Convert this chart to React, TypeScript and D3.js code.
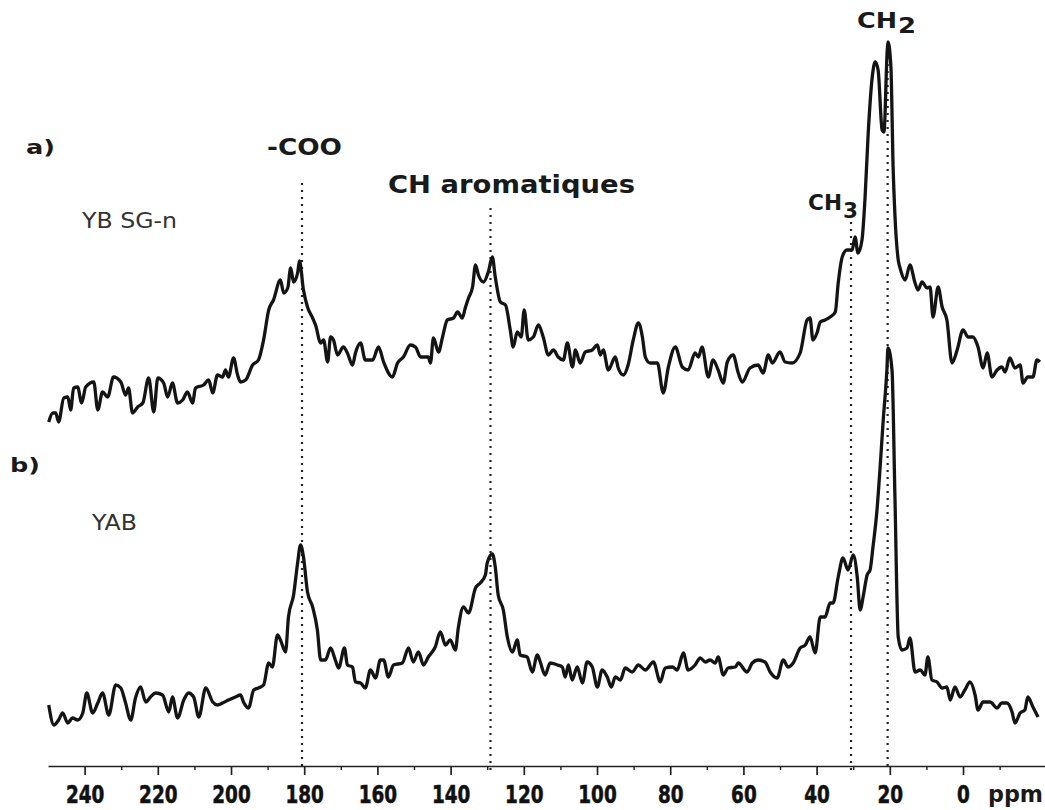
import React, { useEffect, useRef } from 'react';
import * as d3 from 'd3';

type Pt = [number, number];

// [ppm, intensity], intensity in the same arbitrary units for both
const traceA: Pt[] = [
  [249.8, 8], [248.7, 17], [247.9, 17], [247.1, 8], [245.7, 32], [244.6, 33], [243.8, 20], [243.0, 42],
  [241.9, 43], [240.8, 27], [239.7, 43], [237.5, 48], [236.4, 20], [235.1, 38], [233.7, 33], [232.1, 53],
  [230.1, 48], [228.8, 35], [228.0, 42], [226.9, 17], [225.5, 23], [224.1, 27], [222.5, 52], [221.1, 18],
  [220.0, 52], [218.4, 47], [217.3, 33], [216.0, 47], [214.6, 27], [213.2, 30], [211.9, 38], [210.5, 27],
  [209.7, 42], [207.5, 45], [206.1, 50], [205.0, 37], [203.7, 55], [202.3, 53], [201.5, 60], [200.7, 53],
  [199.3, 72], [198.2, 55], [197.4, 48], [196.0, 50], [194.1, 65], [192.5, 70], [191.1, 90], [189.7, 120],
  [188.4, 130], [186.5, 150], [185.6, 137], [184.5, 142], [183.7, 162], [182.9, 148], [181.8, 157], [181.3, 169],
  [180.2, 140], [179.1, 123], [177.7, 112], [176.9, 105], [175.5, 87], [174.7, 90], [173.6, 68], [172.8, 93],
  [172.0, 90], [170.9, 75], [169.3, 83], [168.2, 77], [166.8, 65], [166.0, 77], [164.6, 87], [163.3, 70],
  [161.3, 70], [159.7, 83], [158.3, 68], [155.9, 53], [154.5, 67], [152.9, 73], [151.0, 85], [149.6, 83],
  [148.2, 73], [146.1, 73], [145.5, 67], [144.7, 92], [143.3, 78], [142.2, 93], [140.9, 110], [139.2, 112],
  [138.1, 118], [136.8, 112], [136.0, 122], [135.1, 132], [134.0, 143], [133.2, 165], [132.4, 155], [131.0, 148],
  [129.7, 158], [128.6, 173], [127.8, 153], [126.4, 128], [125.0, 125], [123.7, 100], [122.9, 83], [121.8, 98],
  [120.7, 93], [119.9, 120], [118.8, 90], [117.4, 93], [116.0, 105], [114.7, 93], [113.3, 75], [111.9, 80],
  [110.6, 73], [109.2, 70], [108.1, 87], [106.7, 63], [105.9, 80], [104.6, 67], [103.2, 78], [101.3, 80],
  [99.9, 85], [99.1, 75], [98.3, 80], [96.9, 60], [95.0, 73], [94.2, 62], [92.8, 55], [91.5, 65],
  [90.1, 90], [88.7, 107], [87.6, 93], [86.8, 73], [85.5, 67], [83.5, 67], [81.9, 37], [80.5, 63],
  [78.6, 83], [76.7, 63], [75.1, 60], [73.2, 77], [72.3, 73], [71.3, 83], [69.6, 53], [68.3, 70],
  [66.9, 60], [65.5, 47], [64.4, 68], [62.8, 75], [61.4, 57], [60.3, 48], [58.2, 62], [56.0, 65],
  [54.6, 57], [53.2, 75], [52.1, 67], [50.0, 78], [48.6, 68], [46.7, 67], [44.5, 77], [42.6, 110],
  [41.8, 112], [41.0, 90], [39.9, 97], [39.0, 108], [37.7, 110], [36.3, 113], [34.9, 118], [34.1, 147],
  [33.0, 173], [31.7, 180], [30.3, 180], [29.5, 193], [28.7, 177], [27.6, 190], [26.8, 230], [25.9, 297],
  [24.8, 353], [24.0, 368], [23.2, 360], [22.1, 300], [21.6, 298], [20.7, 380], [20.5, 388], [19.7, 363],
  [19.1, 263], [18.6, 215], [17.7, 170], [17.2, 162], [15.8, 150], [14.5, 165], [13.1, 147], [12.3, 140],
  [11.2, 148], [9.8, 142], [9.0, 143], [8.2, 113], [6.8, 143], [5.7, 123], [4.4, 110], [3.0, 67],
  [1.6, 80], [0.0, 100], [-1.4, 93], [-2.7, 93], [-4.1, 83], [-5.5, 62], [-6.6, 77], [-7.9, 53],
  [-9.3, 60], [-10.6, 63], [-11.5, 58], [-12.8, 72], [-14.2, 62], [-15.6, 65], [-16.4, 47], [-17.7, 53],
  [-19.1, 53], [-20.2, 70], [-21.0, 68]
];

const traceB: Pt[] = [
  [249.8, 25], [248.4, 5], [247.1, 10], [246.0, 17], [244.6, 7], [243.3, 12], [241.9, 10], [240.5, 17],
  [239.4, 37], [237.8, 17], [236.4, 27], [235.1, 37], [233.4, 15], [231.5, 45], [230.1, 42], [228.8, 27],
  [227.4, 10], [226.1, 32], [224.7, 43], [223.3, 28], [222.0, 33], [220.6, 37], [218.7, 35], [217.0, 18],
  [216.0, 33], [214.6, 12], [212.9, 30], [211.6, 37], [210.2, 33], [208.8, 13], [206.9, 42], [205.0, 28],
  [203.7, 25], [202.3, 27], [200.7, 30], [198.8, 33], [197.4, 35], [196.6, 28], [195.2, 22], [193.8, 40],
  [192.5, 42], [191.1, 45], [189.7, 67], [188.7, 63], [187.3, 95], [186.5, 90], [185.1, 78], [184.3, 113],
  [182.9, 135], [181.8, 167], [181.0, 185], [180.2, 173], [179.1, 138], [177.7, 123], [176.4, 100], [175.5, 70],
  [174.2, 70], [172.8, 82], [171.5, 70], [170.6, 62], [169.0, 82], [168.2, 65], [166.8, 63], [166.0, 48],
  [164.6, 47], [163.3, 42], [161.9, 60], [160.5, 52], [159.2, 70], [158.3, 70], [157.0, 53], [155.6, 65],
  [153.2, 67], [151.5, 82], [150.2, 68], [148.8, 78], [147.4, 65], [146.1, 73], [144.2, 83], [142.8, 98],
  [141.4, 85], [140.1, 90], [138.7, 80], [137.9, 102], [136.5, 123], [135.1, 117], [133.2, 142], [131.9, 147],
  [130.5, 155], [130.0, 167], [128.6, 176], [127.8, 163], [127.0, 135], [125.6, 120], [124.5, 93], [123.1, 78],
  [121.8, 90], [121.0, 75], [119.1, 73], [117.7, 58], [116.3, 75], [115.5, 68], [114.2, 55], [112.8, 67],
  [110.8, 65], [109.5, 63], [108.7, 53], [107.8, 65], [106.8, 50], [105.4, 63], [104.0, 47], [102.7, 68],
  [101.3, 63], [99.9, 43], [98.6, 60], [97.2, 53], [96.1, 43], [95.0, 53], [93.6, 50], [92.3, 62],
  [90.4, 58], [88.7, 65], [86.8, 60], [84.6, 68], [82.7, 48], [81.4, 62], [79.4, 63], [78.1, 60],
  [76.4, 77], [75.1, 60], [73.2, 65], [71.8, 72], [70.4, 68], [69.1, 70], [67.7, 67], [66.9, 73],
  [65.5, 55], [64.2, 62], [62.2, 63], [61.4, 67], [59.0, 58], [57.6, 67], [56.0, 70], [54.1, 68],
  [52.7, 58], [50.8, 52], [49.1, 70], [47.8, 63], [46.4, 67], [44.5, 82], [43.1, 85], [41.8, 93],
  [40.4, 77], [39.0, 113], [37.7, 113], [36.3, 127], [35.5, 127], [34.1, 153], [32.8, 172], [31.4, 160],
  [30.0, 175], [28.9, 153], [28.1, 120], [27.3, 133], [26.2, 155], [25.4, 160], [24.6, 183], [23.5, 220],
  [22.7, 260], [21.8, 310], [20.8, 360], [20.5, 382], [19.4, 360], [18.6, 233], [17.7, 93], [16.7, 80],
  [15.3, 82], [14.5, 92], [13.1, 58], [11.7, 60], [10.4, 55], [9.6, 73], [8.5, 50], [7.1, 48],
  [5.7, 42], [4.4, 43], [3.5, 30], [2.2, 43], [0.8, 33], [-0.5, 40], [-1.9, 48], [-3.3, 35],
  [-4.1, 20], [-5.5, 28], [-7.4, 28], [-9.3, 22], [-10.6, 27], [-12.0, 27], [-13.4, 18], [-14.2, 7],
  [-15.6, 17], [-16.9, 20], [-17.7, 33], [-19.1, 23], [-20.5, 13]
];

const majorTicks = [240, 220, 200, 180, 160, 140, 120, 100, 80, 60, 40, 20, 0];
const minorTicks = [230, 210, 190, 170, 150, 130, 110, 90, 70, 50, 30, 10, -10];

// assignment lines: ppm and upper end (in trace-a intensity units)
const markerPpm = [180.6, 129.1, 30.6, 20.6];
const markerTop = [247, 222, 208, 380];

const W = 1045;
const H = 810;

const App: React.FC = () => {
  const svgRef = useRef<SVGSVGElement>(null);

  useEffect(() => {
    if (!svgRef.current) return;
    const svg = d3.select(svgRef.current);
    svg.selectAll('*').remove();

    const axisY = 766;
    const x = d3.scaleLinear().domain([250, -22.4]).range([48, 1045]);
    const yA = d3.scaleLinear().domain([0, 388]).range([430, 42]);
    const yB = d3.scaleLinear().domain([0, 388]).range([730, 342]);

    svg.append('rect').attr('width', W).attr('height', H).attr('fill', '#fff');

    // dotted assignment lines
    svg.append('g')
      .selectAll('line')
      .data(markerPpm)
      .join('line')
      .attr('x1', d => x(d))
      .attr('x2', d => x(d))
      .attr('y1', (_, i) => yA(markerTop[i]))
      .attr('y2', axisY + 5)
      .attr('stroke', '#222')
      .attr('stroke-width', 2.2)
      .attr('stroke-dasharray', '2 5');

    // spectra
    const lineA = d3.line<Pt>().x(d => x(d[0])).y(d => yA(d[1])).curve(d3.curveMonotoneX);
    const lineB = d3.line<Pt>().x(d => x(d[0])).y(d => yB(d[1])).curve(d3.curveMonotoneX);

    [lineA(traceA), lineB(traceB)].forEach(d => {
      svg.append('path')
        .attr('d', d || '')
        .attr('fill', 'none')
        .attr('stroke', '#141414')
        .attr('stroke-width', 3.3)
        .attr('stroke-linejoin', 'round');
    });

    // axis
    const ax = svg.append('g').attr('transform', `translate(0,${axisY})`);
    ax.call(
      d3.axisBottom(x)
        .tickValues(majorTicks)
        .tickSize(9)
        .tickSizeOuter(0)
        .tickFormat(d => `${d}`)
    );
    ax.select('.domain').attr('stroke', '#222').attr('stroke-width', 1.4);
    ax.selectAll('.tick line').attr('stroke', '#222').attr('stroke-width', 1.7);
    ax.selectAll<SVGTextElement, number>('.tick text')
      .attr('y', 37)
      .attr('dy', 0)
      .attr('fill', '#111')
      .attr('font-family', 'DejaVu Sans, Verdana, sans-serif')
      .attr('font-weight', 'bold')
      .attr('font-size', 24)
      .attr('stroke', '#111')
      .attr('stroke-width', 0.6)
      .attr('textLength', d => `${d}`.length * 12.8)
      .attr('lengthAdjust', 'spacingAndGlyphs');

    const minor = svg.append('g').attr('transform', `translate(0,${axisY})`);
    minor.call(d3.axisBottom(x).tickValues(minorTicks).tickSize(4).tickFormat(() => ''));
    minor.select('.domain').remove();
    minor.selectAll('.tick line').attr('stroke', '#222').attr('stroke-width', 1.4);

    // labels
    const label = (tx: number, ty: number, text: string, size: number, len: number, bold = true, color = '#1a1a1a') =>
      svg.append('text')
        .attr('x', tx)
        .attr('y', ty)
        .attr('font-family', 'DejaVu Sans, Verdana, sans-serif')
        .attr('font-weight', bold ? 'bold' : 'normal')
        .attr('font-size', size)
        .attr('fill', color)
        .attr('textLength', len)
        .attr('lengthAdjust', 'spacingAndGlyphs')
        .text(text);

    label(988, 802, 'ppm', 23, 55);
    label(26, 154, 'a)', 20, 29);
    label(10, 472, 'b)', 20, 30);
    label(267, 155, '-COO', 23, 75);
    label(388, 193, 'CH aromatiques', 24, 247);
    label(82, 228, 'YB SG-n', 21, 95, false, '#333');
    label(92, 530, 'YAB', 21, 45, false, '#333');

    label(808, 210, 'CH', 21, 34);
    label(843, 218, '3', 21, 15);
    label(857, 28, 'CH', 22, 40);
    label(898, 33, '2', 22, 18);
  }, []);

  return (
    <div style={{ position: 'absolute', left: 0, top: 0, width: W, height: H, background: '#fff' }}>
      <svg ref={svgRef} width={W} height={H} style={{ display: 'block' }} />
    </div>
  );
};

export default App;
